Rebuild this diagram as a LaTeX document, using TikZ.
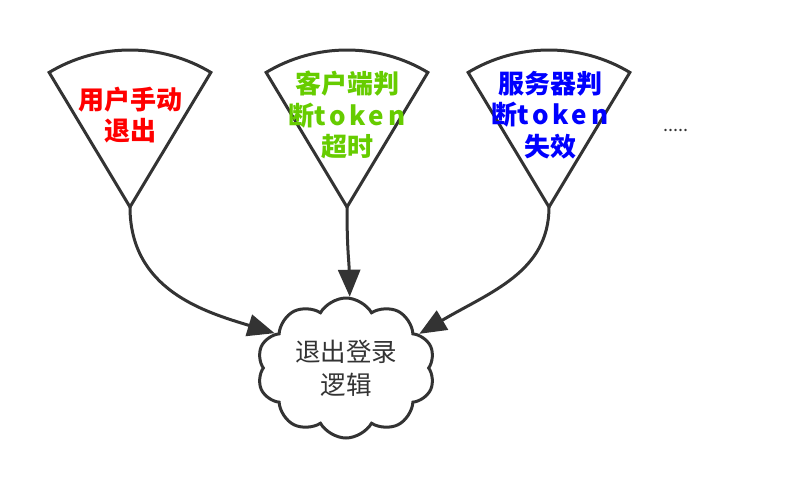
\documentclass[tikz,border=0pt]{standalone}
\usepackage{fontspec}
\newfontfamily\cjk{Noto Sans CJK SC}
\usetikzlibrary{arrows.meta,shapes.symbols,positioning}
\definecolor{linegray}{HTML}{333333}
\definecolor{userred}{HTML}{FF0000}
\definecolor{clientgreen}{HTML}{66CC00}
\definecolor{serverblue}{HTML}{0000FF}
\tikzset{%
	funnel/.style = {draw=linegray, line width=3pt, line join=miter},
	ftext/.style  = {align=center, inner sep=0pt, font=\cjk\bfseries\fontsize{26}{31.5}\selectfont},
	logic/.style  = {draw=linegray, line width=3pt, cloud, cloud puffs=10, cloud puff arc=120, aspect=1.3,
		minimum width=178pt, minimum height=140pt, align=center, text=linegray,
		font=\cjk\fontsize{25.5}{33}\selectfont},
	arrow/.style  = {draw=linegray, line width=3pt, -{Triangle[length=27pt,width=22pt]}},
}
\newcommand{\tok}{{\addfontfeature{LetterSpace=14}token}}

\begin{document}
\begin{tikzpicture}[x=1pt,y=-1pt]
	\useasboundingbox (0,0) rectangle (788,488);
	
	% funnels
	\coordinate (t1) at (130,207);
	\coordinate (t2) at (347,207);
	\coordinate (t3) at (549,207);
	\draw[funnel] (t1) -- ++(121:157pt) arc (121:59:157pt) -- cycle;
	\draw[funnel] (t2) -- ++(121:157pt) arc (121:59:157pt) -- cycle;
	\draw[funnel] (t3) -- ++(121:157pt) arc (121:59:157pt) -- cycle;
	\node[ftext, text=userred] (user) at (130,115) {用户手动\\退出};
	\node[ftext, text=clientgreen] (client) at (347,115) {客户端判\\断\tok\\超时};
	\node[ftext, text=serverblue] (server) at (550,115) {服务器判\\断\tok\\失效};
	\node[text=linegray, font=\cjk\fontsize{18}{18}\selectfont] (more) at (676,130) {.....};
	
	% logout logic
	\node[logic] (logout) at (346,368) {退出登录\\逻辑};
	
	\draw[arrow] (t1) .. controls (130,290) and (205,312) .. (logout.154);
	\draw[arrow] (t2) .. controls (347,250) and (349,260) .. (logout.87);
	\draw[arrow] (t3) .. controls (549,272) and (490,292) .. (logout.25);
\end{tikzpicture}
\end{document}
